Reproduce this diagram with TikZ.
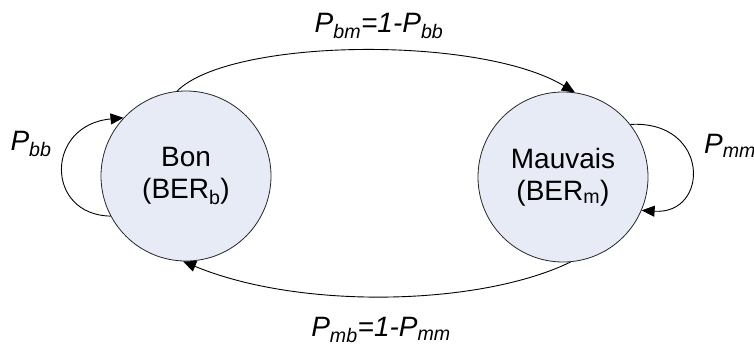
\documentclass[tikz,border=0pt]{standalone}
\usepackage{fontspec}
\setmainfont{Liberation Sans}
\usetikzlibrary{arrows.meta}
\definecolor{statefill}{HTML}{E6EBF5}
\tikzset{
  state/.style={circle, draw=black!85, line width=0.8pt, fill=statefill, minimum size=170pt, inner sep=0pt, align=center, font=\fontsize{28}{32}\selectfont},
  trans/.style={draw=black, line width=0.9pt, -{Triangle[length=13pt,width=11pt]}},
  lbl/.style={font=\fontsize{28}{32}\selectfont\itshape, inner sep=0pt}
}
\begin{document}
\begin{tikzpicture}[x=1pt,y=-1pt]
\useasboundingbox (0,0) rectangle (754,346);
\node[state] (bon) at (186,176) {Bon\\(BER\textsubscript{b})};
\node[state] (mau) at (563,177) {Mauvais\\(BER\textsubscript{m})};
% transitions
\draw[trans] (bon.96) .. controls (230,38) and (480,35) .. (mau.82);
\draw[trans] (mau.275) .. controls (480,306) and (300,310) .. (bon.268);
\draw[trans] (bon.208) .. controls (45,215) and (45,125) .. (bon.137);
\draw[trans] (mau.38) .. controls (710,120) and (710,215) .. (mau.337);
% labels
\node[lbl] (lbm) at (379,26) {P\textsubscript{bm}=1-P\textsubscript{bb}};
\node[lbl] (lmb) at (381,330) {P\textsubscript{mb}=1-P\textsubscript{mm}};
\node[lbl] (lbb) at (31,144) {P\textsubscript{bb}};
\node[lbl] (lmm) at (730,146) {P\textsubscript{mm}};
\end{tikzpicture}
\end{document}
